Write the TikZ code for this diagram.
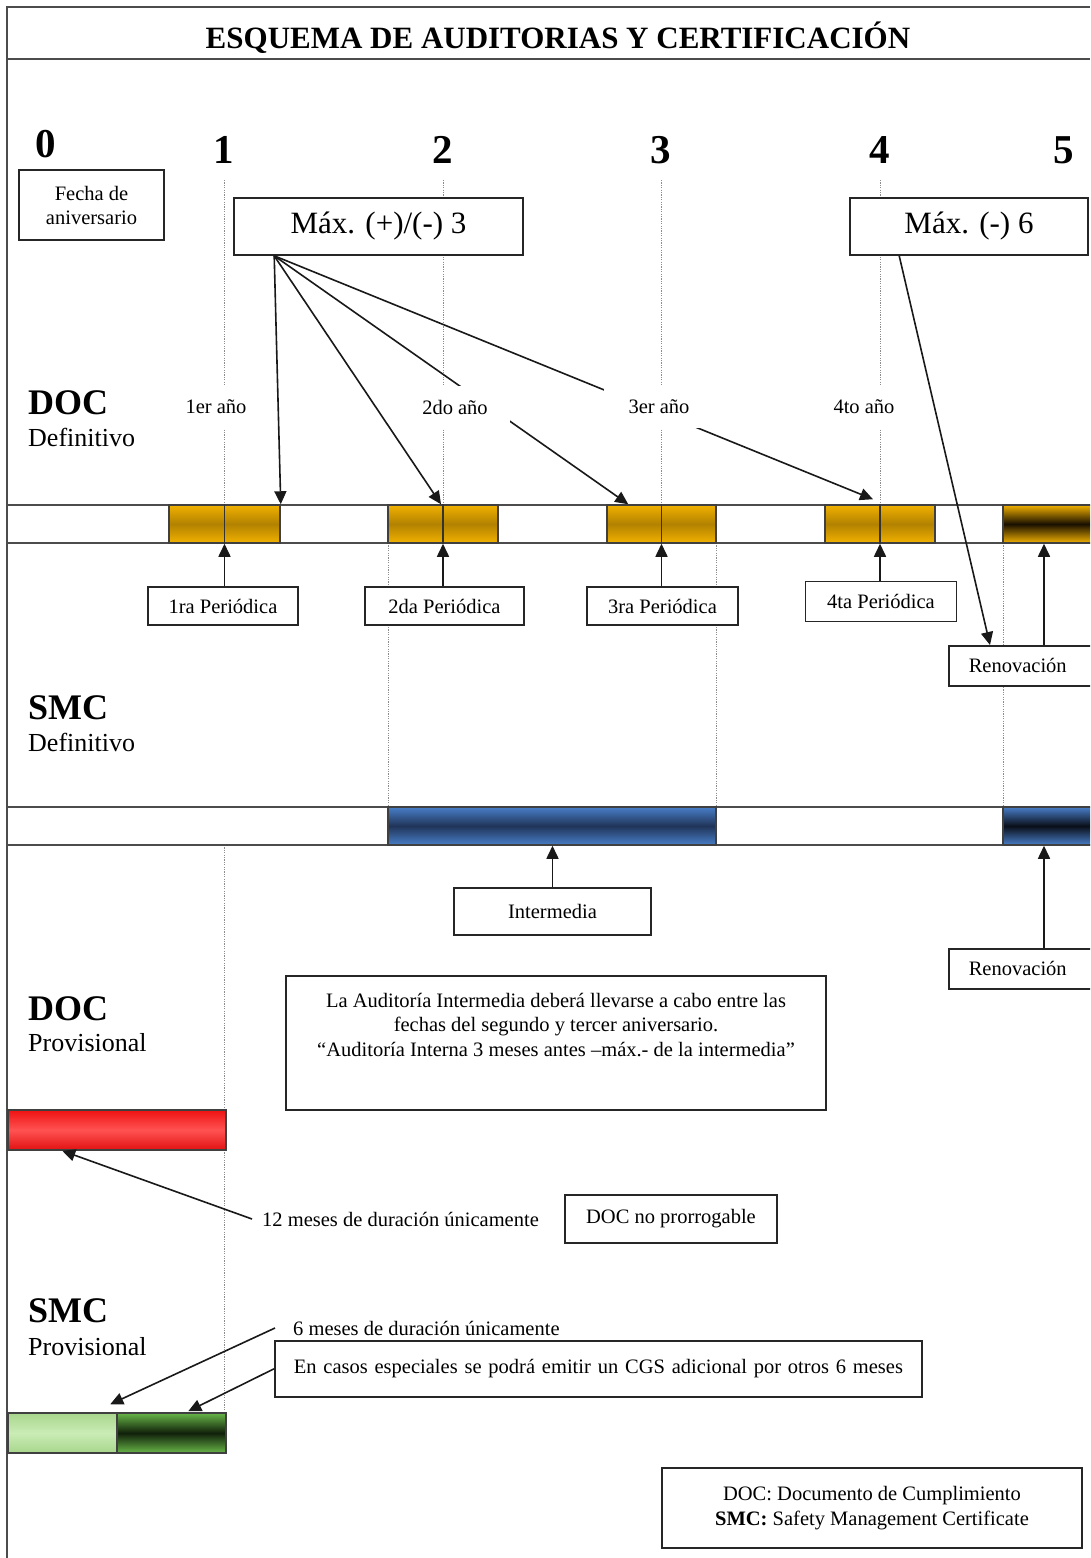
\documentclass[tikz,border=0pt]{standalone}
\usepackage{fontspec}
\setmainfont{Liberation Serif}
\usetikzlibrary{arrows.meta,calc}

\definecolor{orgedge}{RGB}{242,177,0}
\definecolor{orgmid}{RGB}{178,130,0}
\definecolor{orgdark}{RGB}{25,15,0}
\definecolor{bluedge}{RGB}{72,126,200}
\definecolor{blumid}{RGB}{32,52,88}
\definecolor{bludark}{RGB}{10,14,24}
\definecolor{rededge}{RGB}{238,18,18}
\definecolor{redmid}{RGB}{255,82,82}
\definecolor{lgredge}{RGB}{168,214,140}
\definecolor{lgrmid}{RGB}{202,236,182}
\definecolor{dgredge}{RGB}{104,182,72}
\definecolor{dgrmid}{RGB}{16,32,10}

\begin{document}
\begin{tikzpicture}[x=1pt,y=-1pt,
  txt/.style={font=\fontsize{20.5}{24.5}\selectfont},
  box/.style={draw=black!85, line width=1.6pt, fill=white, inner sep=0pt, txt},
  yearlbl/.style={fill=white, inner sep=0pt, minimum width=110, minimum height=42, txt},
  numlbl/.style={anchor=base, inner sep=0pt, font=\fontsize{41}{48}\selectfont\bfseries},
  rowhead/.style={anchor=base west, inner sep=0pt, font=\fontsize{36}{42}\selectfont\bfseries},
  rowsub/.style={anchor=base west, inner sep=0pt, font=\fontsize{26}{30}\selectfont},
  rimline/.style={draw=black!70, line width=2pt},
  barline/.style={draw=black!70, line width=2pt},
  guide/.style={draw=black!45, line width=1pt, dash pattern=on 1.2pt off 1.2pt},
  blk/.style={draw=black!75, line width=1.5pt, inner sep=0pt, minimum height=38},
  orgblk/.style={blk, top color=orgedge, bottom color=orgedge, middle color=orgmid},
  orgend/.style={blk, top color=orgedge, bottom color=orgedge, middle color=orgdark},
  blublk/.style={blk, top color=bluedge, bottom color=bluedge, middle color=blumid},
  bluend/.style={blk, top color=bluedge, bottom color=bluedge, middle color=bludark},
  divider/.style={draw=black!80, line width=1.5pt},
  arr/.style={draw=black!90, line width=1.6pt, -{Triangle[length=13pt,width=12pt]}}
]
\useasboundingbox (0,0) rectangle (1090,1558);
\fill[white] (0,0) rectangle (1090,1558);
\clip (0,0) rectangle (1090,1558);

% outer frame and title band
\draw[rimline] (7,1558) -- (7,7) -- (1090,7);
\draw[rimline] (7,59) -- (1090,59);
\node (title) [anchor=base, inner sep=0pt, font=\fontsize{31}{36}\selectfont\bfseries] at (558,48) {ESQUEMA DE AUDITORIAS Y CERTIFICACIÓN};

% anniversary numbers
\node (n0) [numlbl] at (46,157) {0};
\node (n1) [numlbl] at (224,163) {1};
\node (n2) [numlbl] at (443,163) {2};
\node (n3) [numlbl] at (661,163) {3};
\node (n4) [numlbl] at (880,163) {4};
\node (n5) [numlbl] at (1064,163) {5};

% dotted guide lines
\draw[guide] (224,180) -- (224,505);
\draw[guide] (443,180) -- (443,505);
\draw[guide] (661,180) -- (661,505);
\draw[guide] (880,180) -- (880,505);
\draw[guide] (388,543) -- (388,807);
\draw[guide] (716,543) -- (716,807);
\draw[guide] (1003,543) -- (1003,807);
\draw[guide] (224,845) -- (224,1110);
\draw[guide] (224,1150) -- (224,1413);

% timeline strips
\draw[barline] (7,505) -- (1090,505);
\draw[barline] (7,543) -- (1090,543);
\draw[barline] (7,807) -- (1090,807);
\draw[barline] (7,845) -- (1090,845);

% DOC definitivo: periodic audit windows
\node (o1) [orgblk, minimum width=111] at (224.5,524) {};
\node (o2) [orgblk, minimum width=110] at (443,524) {};
\node (o3) [orgblk, minimum width=109] at (661.5,524) {};
\node (o4) [orgblk, minimum width=110] at (880,524) {};
\node (o5) [orgend, minimum width=107] at (1056.5,524) {};
\foreach \b in {o1,o2,o3,o4} \draw[divider] (\b.north) -- (\b.south);

% SMC definitivo: intermediate and renewal windows
\node (b1) [blublk, minimum width=328] at (552,826) {};
\node (b2) [bluend, minimum width=107] at (1056.5,826) {};

% provisional certificates
\node (red) [blk, minimum width=218, minimum height=40, top color=rededge, bottom color=rededge!95!black, middle color=redmid] at (117,1130) {};
\node (gl) [blk, minimum width=109, minimum height=40, top color=lgredge, bottom color=lgredge, middle color=lgrmid] at (62.5,1433) {};
\node (gr) [blk, minimum width=109, minimum height=40, top color=dgredge, bottom color=dgredge, middle color=dgrmid] at (171.5,1433) {};

% row headings
\node (docdef) [rowhead] at (28,414) {DOC};
\node (docdefs) [rowsub] at (28,446) {Definitivo};
\node (smcdef) [rowhead] at (28,719) {SMC};
\node (smcdefs) [rowsub] at (28,751) {Definitivo};
\node (docprov) [rowhead] at (28,1020) {DOC};
\node (docprovs) [rowsub] at (28,1051) {Provisional};
\node (smcprov) [rowhead] at (28,1322) {SMC};
\node (smcprovs) [rowsub] at (28,1355) {Provisional};

% tolerance boxes
\node (fecha) [box, minimum width=145, minimum height=70, align=center, font=\fontsize{20.5}{24}\selectfont] at (91.5,205) {Fecha de\\aniversario};
\node (max3) [box, minimum width=289, minimum height=57, font=\fontsize{31}{36}\selectfont] at (378.5,226.5) {Máx. (+)/(-) 3};
\node (max6) [box, minimum width=238, minimum height=57, font=\fontsize{31}{36}\selectfont] at (969,226.5) {Máx. (-) 6};

% audit boxes
\node (p1) [box, minimum width=150, minimum height=38] at (223,606) {1ra Periódica};
\node (p2) [box, minimum width=159, minimum height=38] at (444.5,606) {2da Periódica};
\node (p3) [box, minimum width=151, minimum height=38] at (662.5,606) {3ra Periódica};
\node (p4) [box, minimum width=151, minimum height=40] at (881,601.5) {4ta Periódica};
\node (ren1) [box, anchor=north west, minimum height=40, text width=130, inner xsep=20, align=left] at (948,645) {Renovación};
\node (int) [box, minimum width=197, minimum height=47] at (552.5,911.5) {Intermedia};
\node (ren2) [box, anchor=north west, minimum height=40, text width=130, inner xsep=20, align=left] at (948,948) {Renovación};

% arrows from the tolerance boxes
\coordinate (fan) at ($(max3.south west)+(41,0)$);
\draw[arr] (fan) -- (o1.north east);
\draw[arr] (fan) -- ($(o2.north)+(-2,0)$);
\draw[arr] (fan) -- ($(o3.north west)+(22,0)$);
\draw[arr] (fan) -- ($(o4.north)+(-7,-5)$);
\draw[arr] ($(max6.south west)+(50,0)$) -- ($(ren1.north west)+(42,0)$);

% arrows from the audit boxes to the windows
\draw[arr] (o1.south |- p1.north) -- (o1.south);
\draw[arr] (o2.south |- p2.north) -- (o2.south);
\draw[arr] (o3.south |- p3.north) -- (o3.south);
\draw[arr] (o4.south |- p4.north) -- (o4.south);
\coordinate (r1a) at ($(ren1.north west)+(96,0)$);
\draw[arr] (r1a) -- (r1a |- o5.south);
\draw[arr] (int.north) -- (int.north |- b1.south);
\coordinate (r2a) at ($(ren2.north west)+(96,0)$);
\draw[arr] (r2a) -- (r2a |- b2.south);

% year labels over the lines
\node (y1) [yearlbl] at (216,407) {1er año};
\node (y2) [yearlbl] at (455,407) {2do año};
\node (y3) [yearlbl] at (659,407) {3er año};
\node (y4) [yearlbl] at (864,407) {4to año};

% notes
\node (rulebox) [box, minimum width=540, minimum height=134] at (556,1043) {};
\node (ruletxt) [txt, inner sep=0pt, align=center] at (556,1025) {La Auditoría Intermedia deberá llevarse a cabo entre las\\fechas del segundo y tercer aniversario.\\“Auditoría Interna 3 meses antes –máx.- de la intermedia”};

\node (m12) [txt, anchor=west, inner xsep=10, inner ysep=2] at (252,1219) {12 meses de duración únicamente};
\node (noprorr) [box, minimum width=212, minimum height=48] at (671,1219) {DOC no prorrogable};
\draw[arr] (m12.west) -- ($(red.south west)+(55,0)$);

\node (m6) [txt, anchor=west, inner xsep=18, inner ysep=1] at (275,1328) {6 meses de duración únicamente};
\node (cgs) [box, anchor=north west, minimum height=56, text width=609, inner xsep=19, align=left] at (274,1340) {\mbox{En casos especiales se podrá emitir un CGS adicional por otros 6 meses}};
\draw[arr] (m6.west) -- ($(gl.north west)+(103,-8)$);
\draw[arr] (cgs.west) -- ($(gr.north west)+(72,-1)$);

\node (legend) [box, minimum width=420, minimum height=80, align=center, font=\fontsize{20.5}{25}\selectfont] at (872,1508) {DOC: Documento de Cumplimiento\\\textbf{SMC:} Safety Management Certificate};
\end{tikzpicture}
\end{document}
